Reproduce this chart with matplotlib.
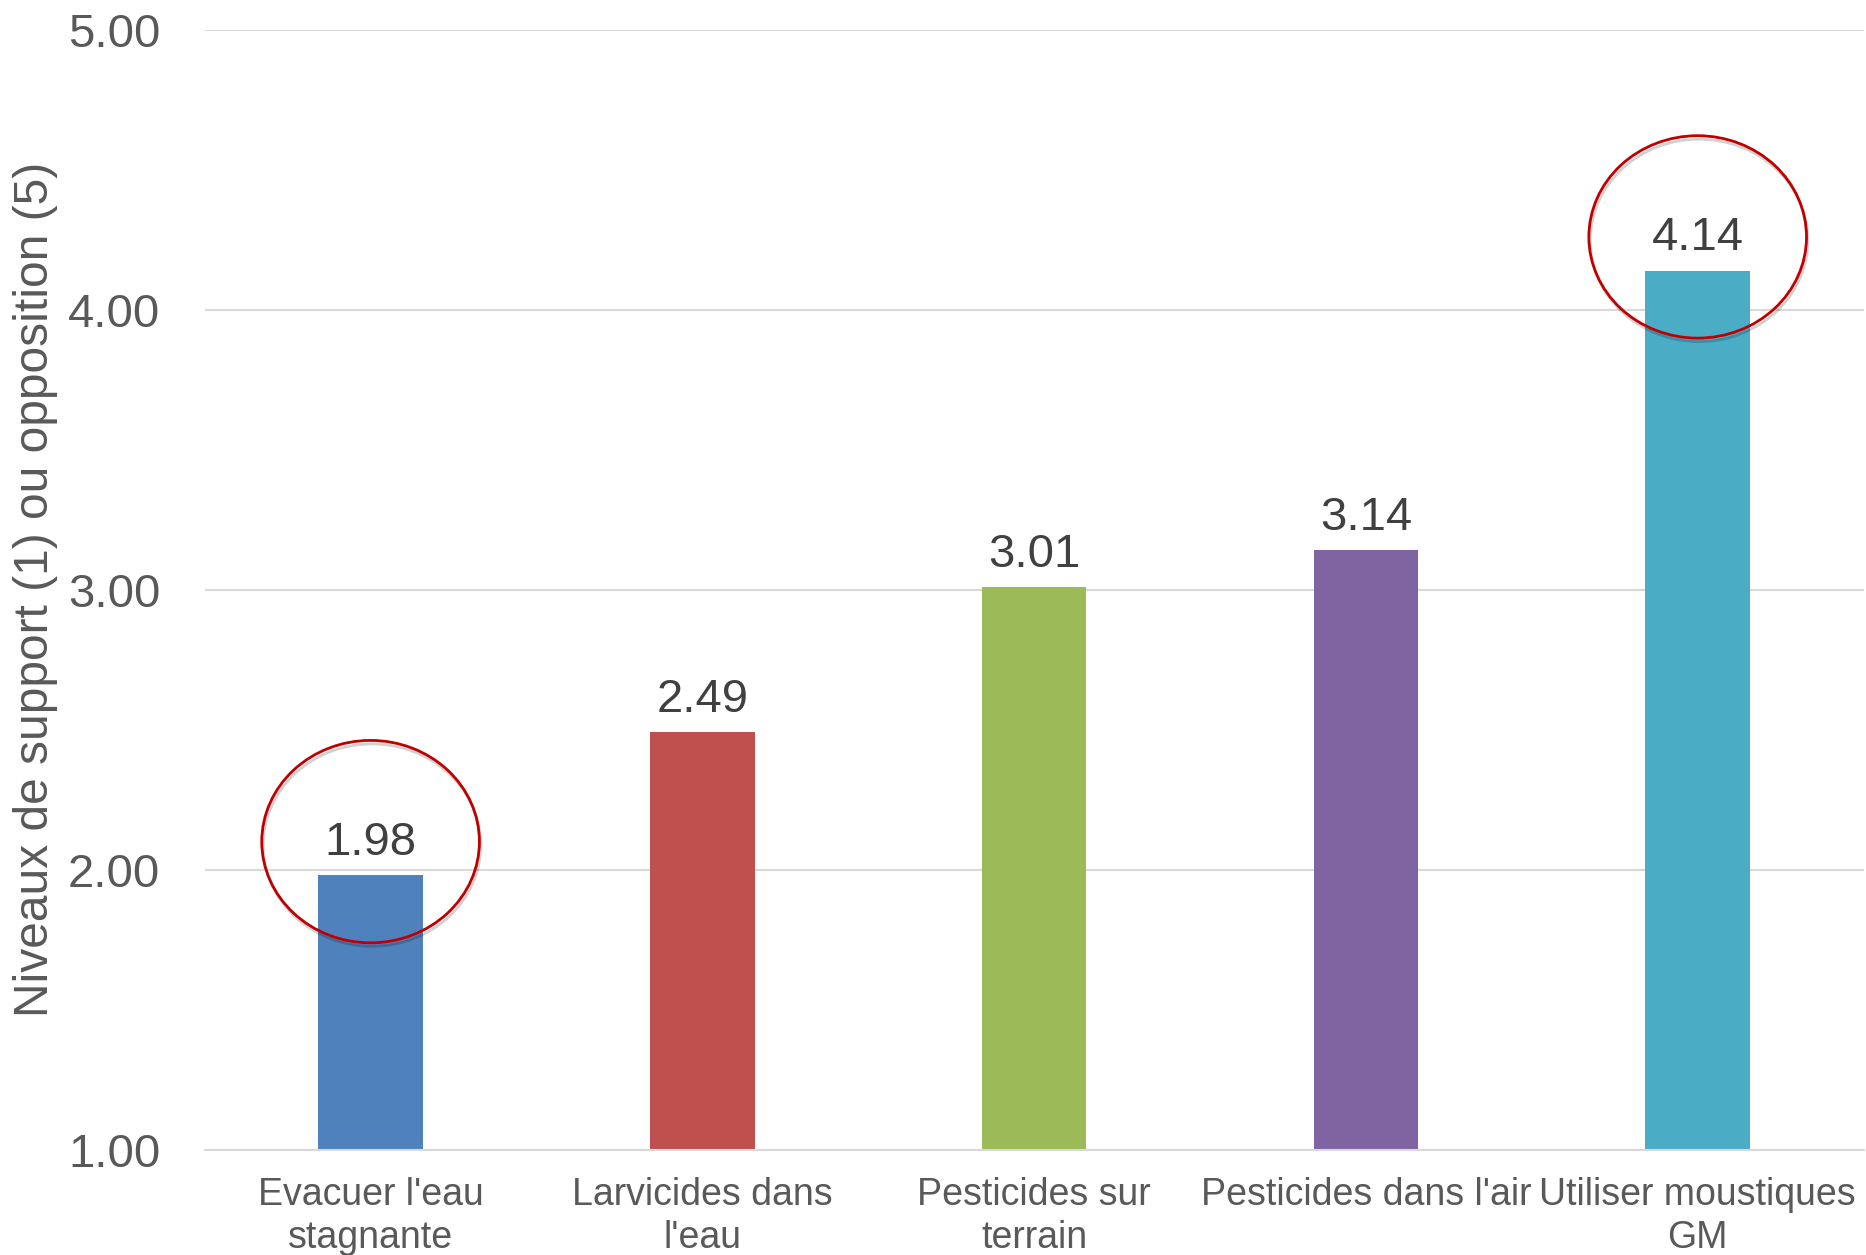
import numpy as np
import matplotlib
matplotlib.use("Agg")
import matplotlib.pyplot as plt
from matplotlib.patches import Ellipse
import matplotlib.patheffects as pe

plt.rcParams['font.family'] = ['Liberation Sans', 'DejaVu Sans']

categories = ["Evacuer l'eau\nstagnante", "Larvicides dans\nl'eau", "Pesticides sur\nterrain",
              "Pesticides dans l'air", "Utiliser moustiques\nGM"]
values = [1.98, 2.49, 3.01, 3.14, 4.14]
colors = ['#4F81BD', '#C0504D', '#9BBB59', '#8064A2', '#4BACC6']
yticks = [1.0, 2.0, 3.0, 4.0, 5.0]
highlight = [0, 4]  # bars circled in red

fig = plt.figure(figsize=(18.66, 12.55), dpi=100)
ax = fig.add_axes([0.1097, 0.084, 0.889, 0.8923])

x = np.arange(len(categories))
ax.bar(x, values, width=0.315, color=colors, zorder=2)

for xi, v in zip(x, values):
    ax.annotate(f"{v:.2f}", (xi, v), xytext=(0, 14.5), textcoords='offset points',
                ha='center', va='baseline', fontsize=34, color='#404040', zorder=4)

# red circles round the lowest and highest values
for i in highlight:
    e = Ellipse((x[i], values[i] + 0.12), 0.656, 0.723, fill=False,
                edgecolor='#C00000', lw=2.0, zorder=5)
    e.set_path_effects([pe.SimpleLineShadow(offset=(1, -2.5), alpha=0.18, shadow_color='k'),
                        pe.Normal()])
    ax.add_patch(e)

ax.set_xlim(-0.5, len(categories) - 0.5)
ax.set_ylim(1.0, 5.0)
ax.set_yticks(yticks)
ax.set_yticklabels([f"{t:.2f}" for t in yticks])
ax.set_xticks(x)
ax.set_xticklabels(categories, linespacing=1.22)

ax.tick_params(axis='y', length=0, pad=32, labelsize=34, labelcolor='#595959')
ax.tick_params(axis='x', length=0, pad=20, labelsize=27, labelcolor='#595959')

ax.grid(axis='y', color='#D9D9D9', lw=1.5, zorder=0)
ax.set_axisbelow(True)
for s in ['top', 'right', 'left']:
    ax.spines[s].set_visible(False)
ax.spines['bottom'].set_color('#D9D9D9')
ax.spines['bottom'].set_linewidth(1.5)

ax.set_ylabel("Niveaux de support (1) ou opposition (5)", fontsize=34.5, color='#595959', va='center')
ax.yaxis.set_label_coords(-0.1017, 0.5)

fig.savefig("out.png", dpi=100)
